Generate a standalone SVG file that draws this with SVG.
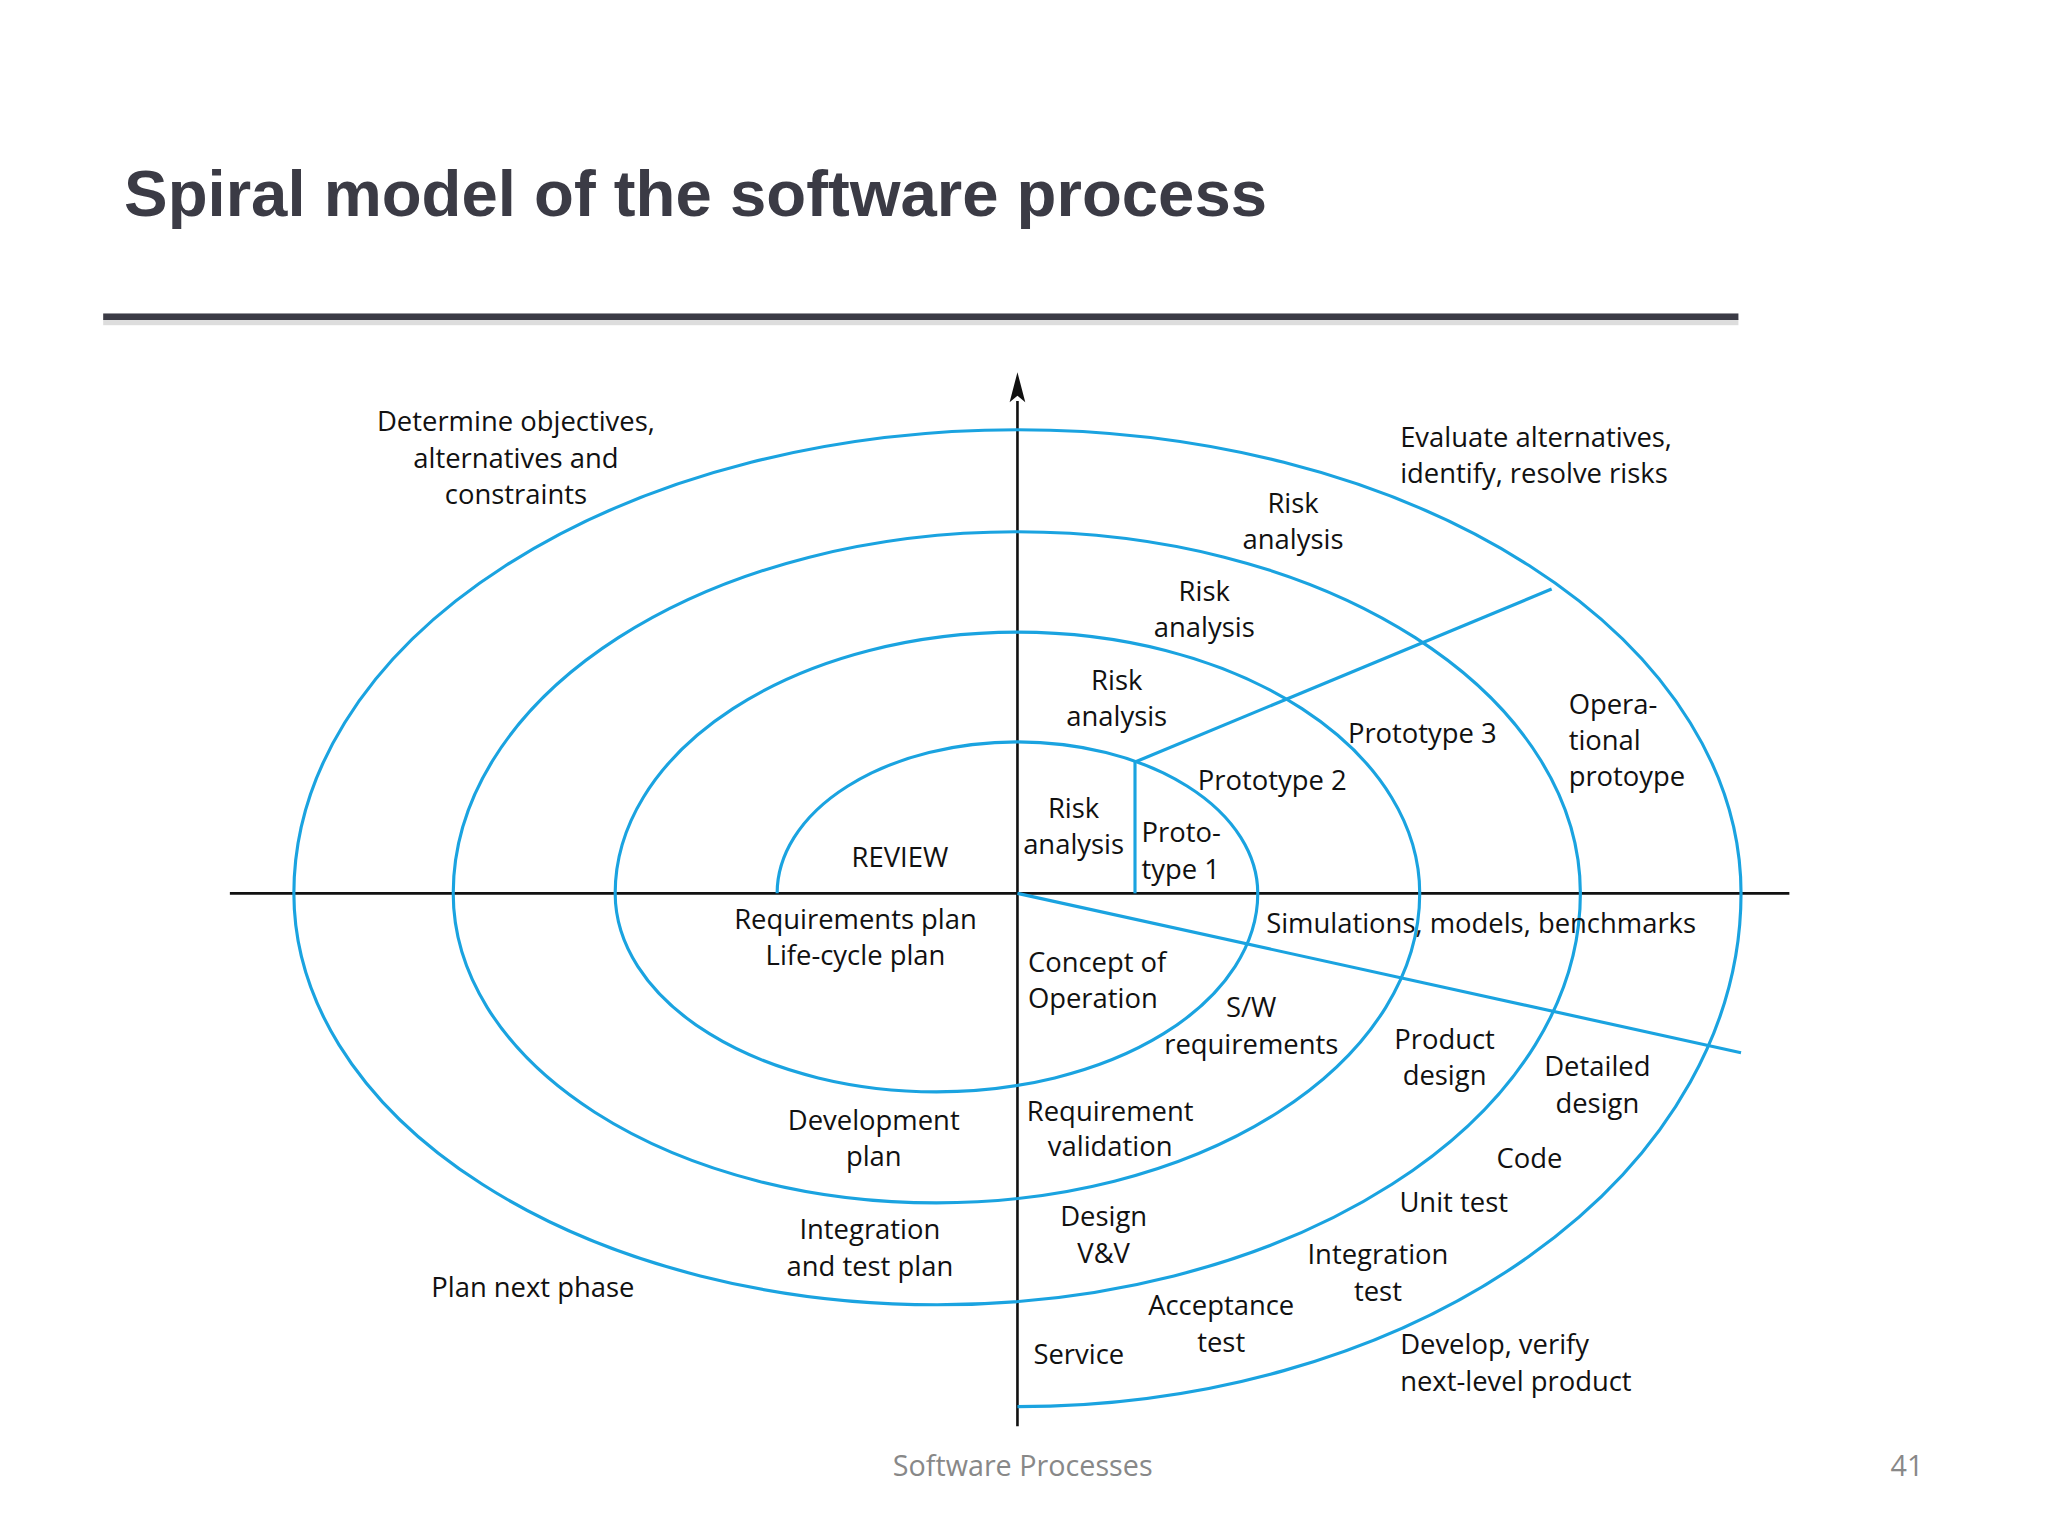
<svg xmlns="http://www.w3.org/2000/svg" width="2048" height="1536" viewBox="0 0 2048 1536">
<defs>
<style>
.t{font-family:"Open Sans","Noto Sans",sans-serif;font-size:21px;fill:#111;text-anchor:middle}
.l{text-anchor:start}
.s{fill:none;stroke:#1aa3e0;stroke-width:2.4}
.ax{stroke:#111;stroke-width:2;fill:none}
.f{font-family:"Open Sans","Noto Sans",sans-serif;font-size:22px;fill:#888;text-anchor:middle}
</style>
<marker id="ar" markerWidth="10" markerHeight="16" refX="5" refY="2" orient="auto" markerUnits="userSpaceOnUse"><path d="M5 0 L10 22 L5 17 L0 22Z" fill="#111"/></marker>
</defs>
<rect width="2048" height="1536" fill="#fff"/>
<g transform="scale(1.3061)">
<text x="95" y="165" font-family="Liberation Sans,Arial,sans-serif" font-weight="bold" font-size="50" fill="#3b3b45">Spiral model of the software process</text>
<rect x="79" y="244" width="1252" height="5" fill="#ddd"/>
<rect x="79" y="240" width="1252" height="5" fill="#3b3b45"/>
<g id="connectors">
<line class="ax" x1="176" y1="684" x2="1370" y2="684"/>
<line class="ax" x1="779" y1="1092" x2="779" y2="307"/>
<path d="M779 285 L785 308 L779 303 L773 308Z" fill="#111"/>
<line class="s" x1="870" y1="583" x2="1188" y2="451" stroke-width="1.6"/>
<line class="s" x1="869" y1="583" x2="869" y2="684" stroke-width="1.6"/>
<line class="s" x1="779" y1="684" x2="1333" y2="806" stroke-width="1.6"/>
</g>
<g id="spiral">
<path class="s" d="M595 684 A184 116 0 0 1 963 684 A246 152 0 0 1 471 684 A308 200 0 0 1 1087 684 A370 237 0 0 1 347 684 A431.5 277 0 0 1 1210 684 A492.5 315 0 0 1 225 684 A554 355 0 0 1 1333 684 A554 393 0 0 1 779 1077"/>
</g>
<g id="labels">
<text class="t" x="395" y="330">Determine objectives,</text>
<text class="t" x="395" y="358">alternatives and</text>
<text class="t" x="395" y="386">constraints</text>
<text class="t l" x="1072" y="342">Evaluate alternatives,</text>
<text class="t l" x="1072" y="370">identify, resolve risks</text>
<text class="t" x="990" y="393">Risk</text><text class="t" x="990" y="420">analysis</text>
<text class="t" x="922" y="460">Risk</text><text class="t" x="922" y="488">analysis</text>
<text class="t" x="855" y="528">Risk</text><text class="t" x="855" y="556">analysis</text>
<text class="t" x="822" y="626">Risk</text><text class="t" x="822" y="654">analysis</text>
<text class="t l" x="874" y="645">Proto-</text><text class="t l" x="874" y="673">type 1</text>
<text class="t" x="974" y="605">Prototype 2</text>
<text class="t" x="1089" y="569">Prototype 3</text>
<text class="t l" x="1201" y="547">Opera-</text><text class="t l" x="1201" y="574">tional</text><text class="t l" x="1201" y="602">protoype</text>
<text class="t" x="689" y="664">REVIEW</text>
<text class="t" x="655" y="711">Requirements plan</text><text class="t" x="655" y="739">Life-cycle plan</text>
<text class="t" x="1134" y="714">Simulations, models, benchmarks</text>
<text class="t l" x="787" y="744">Concept of</text><text class="t l" x="787" y="772">Operation</text>
<text class="t" x="958" y="779">S/W</text><text class="t" x="958" y="807">requirements</text>
<text class="t" x="1106" y="803">Product</text><text class="t" x="1106" y="831">design</text>
<text class="t" x="1223" y="824">Detailed</text><text class="t" x="1223" y="852">design</text>
<text class="t" x="669" y="865">Development</text><text class="t" x="669" y="893">plan</text>
<text class="t" x="850" y="858">Requirement</text><text class="t" x="850" y="885">validation</text>
<text class="t" x="1171" y="894">Code</text>
<text class="t" x="1113" y="928">Unit test</text>
<text class="t" x="666" y="949">Integration</text><text class="t" x="666" y="977">and test plan</text>
<text class="t" x="845" y="939">Design</text><text class="t" x="845" y="967">V&amp;V</text>
<text class="t" x="1055" y="968">Integration</text><text class="t" x="1055" y="996">test</text>
<text class="t" x="408" y="993">Plan next phase</text>
<text class="t" x="935" y="1007">Acceptance</text><text class="t" x="935" y="1035">test</text>
<text class="t" x="826" y="1044">Service</text>
<text class="t l" x="1072" y="1037">Develop, verify</text><text class="t l" x="1072" y="1065">next-level product</text>
</g>
<text class="f" x="783" y="1130">Software Processes</text>
<text class="f" x="1460" y="1130">41</text>
</g>
</svg>
